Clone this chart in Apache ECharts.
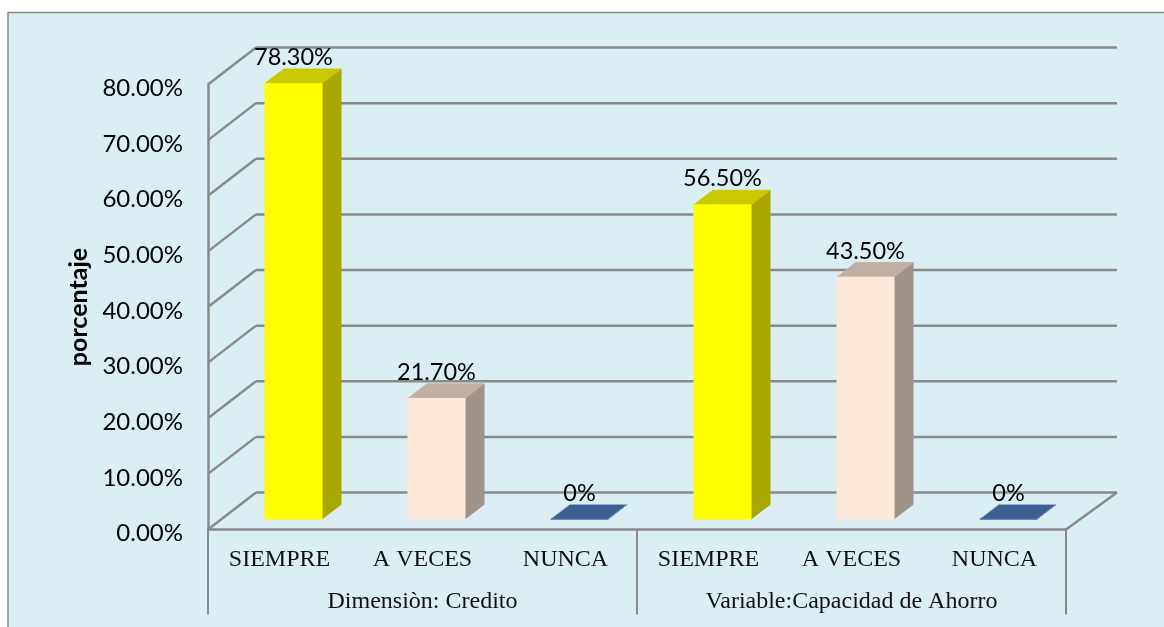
<!DOCTYPE html>
<html>
<head>
<meta charset="utf-8">
<style>html,body{margin:0;padding:0;background:#fff}#c{width:1164px;height:627px}</style>
<script src="https://cdn.jsdelivr.net/npm/echarts@6/dist/echarts.min.js"></script>
</head>
<body>
<div id="c"></div>
<script>
const categories = ['SIEMPRE', 'A VECES', 'NUNCA', 'SIEMPRE', 'A VECES', 'NUNCA'];
const groups = ['Dimensiòn: Credito', 'Variable:Capacidad de Ahorro'];
const values = [78.3, 21.7, 0, 56.5, 43.5, 0];
const yTicks = [0, 10, 20, 30, 40, 50, 60, 70, 80];
const frontColors = ['#FFFF00', '#FDE9D9', '#3B6090', '#FFFF00', '#FDE9D9', '#3B6090'];
const topColors = ['#C9C900', '#C0AFA2', '#3B6090', '#C9C900', '#C0AFA2', '#3B6090'];
const sideColors = ['#A8A800', '#A0938A', '#3B6090', '#A8A800', '#A0938A', '#3B6090'];

const GRID = '#8A8A8A';
const wall = { dx: 48, dy: -37, endDx: 51 };
const plane = { dx: 14, dy: -10.5 };
const depth = { dx: 19, dy: -14.5 };
const uiFont = 'Lato';
const serif = 'Liberation Serif';

function fmtLabel(v) { return v === 0 ? '0%' : v.toFixed(2) + '%'; }

const chart = echarts.init(document.getElementById('c'), null, { renderer: 'canvas' });
chart.setOption({
  animation: false,
  backgroundColor: '#ffffff',
  graphic: {
    z: -1,
    elements: [{
      type: 'rect',
      shape: { x: 8, y: 12.5, width: 1180, height: 640 },
      style: { fill: '#DBEEF4', stroke: '#8A8A8A', lineWidth: 1.5 }
    }]
  },
  grid: { left: 208, top: 84.5, width: 858, height: 445, containLabel: false },
  xAxis: [{
    type: 'category',
    data: categories,
    position: 'bottom',
    axisLine: { show: true, lineStyle: { color: GRID, width: 2.5 } },
    axisTick: { show: false },
    axisLabel: { interval: 0, margin: 18, color: '#111', fontFamily: serif, fontSize: 24 }
  }, {
    type: 'category',
    data: groups,
    position: 'bottom',
    axisLine: { show: false },
    axisTick: { show: true, length: 85, lineStyle: { color: GRID, width: 2 } },
    axisLabel: { interval: 0, margin: 60, color: '#111', fontFamily: serif, fontSize: 24 }
  }],
  yAxis: {
    type: 'value',
    min: 0,
    max: 80,
    interval: 10,
    name: 'porcentaje',
    nameLocation: 'middle',
    nameGap: 113,
    nameRotate: 90,
    nameTextStyle: { fontFamily: uiFont, fontWeight: 'bold', fontSize: 25, color: '#000' },
    axisLine: { show: true, lineStyle: { color: GRID, width: 2.5 } },
    axisTick: { show: false },
    splitLine: { show: false },
    axisLabel: {
      margin: 25,
      color: '#000',
      fontFamily: uiFont,
      fontSize: 24,
      formatter: v => '{v|' + v.toFixed(2) + '%}',
      rich: { v: { fontFamily: uiFont, fontSize: 24, color: '#000', padding: [8, 0, 0, 0] } }
    }
  },
  series: [{
    type: 'custom',
    z: 1,
    silent: true,
    xAxisIndex: 0,
    yAxisIndex: 0,
    encode: { x: 0, y: 1 },
    data: yTicks.map(t => [0, t]),
    renderItem(params, api) {
      const cs = params.coordSys;
      const y = api.coord([0, api.value(1)])[1];
      const style = { stroke: GRID, lineWidth: 2.5, fill: null };
      const children = [
        { type: 'line', shape: { x1: cs.x, y1: y, x2: cs.x + wall.dx, y2: y + wall.dy }, style },
        { type: 'line', shape: { x1: cs.x + wall.dx, y1: y + wall.dy, x2: cs.x + cs.width + wall.endDx, y2: y + wall.dy }, style }
      ];
      if (api.value(1) === 0) {
        children.push({ type: 'line', shape: { x1: cs.x + cs.width, y1: y, x2: cs.x + cs.width + wall.endDx, y2: y + wall.dy }, style });
      }
      return { type: 'group', children };
    }
  }, {
    type: 'custom',
    z: 3,
    silent: true,
    xAxisIndex: 0,
    yAxisIndex: 0,
    encode: { x: 0, y: 1 },
    data: values.map((v, i) => [i, v]),
    renderItem(params, api) {
      const i = api.value(0);
      const v = api.value(1);
      const top = api.coord([i, v]);
      const base = api.coord([i, 0]);
      const w = api.size([1, 0])[0] * 0.4;
      const l = top[0] + plane.dx - w / 2;
      const r = l + w;
      const t = top[1] + plane.dy;
      const b = base[1] + plane.dy;
      const poly = (points, color, edge) => ({
        type: 'polygon',
        shape: { points },
        style: { fill: color, stroke: edge || color, lineWidth: 0.8 }
      });
      const zero = v === 0;
      const children = [
        poly([[r, t], [r + depth.dx, t + depth.dy], [r + depth.dx, b + depth.dy], [r, b]], sideColors[i]),
        poly([[l, t], [l + depth.dx, t + depth.dy], [r + depth.dx, t + depth.dy], [r, t]], topColors[i], zero ? '#8FB0D6' : null),
        poly([[l, t], [r, t], [r, b], [l, b]], frontColors[i]),
        {
          type: 'text',
          style: {
            x: (l + r) / 2, y: t - 26,
            text: fmtLabel(v),
            fill: '#000',
            font: '23.5px ' + uiFont,
            align: 'center',
            verticalAlign: 'middle'
          }
        }
      ];
      return { type: 'group', children };
    }
  }]
});
</script>
</body>
</html>
